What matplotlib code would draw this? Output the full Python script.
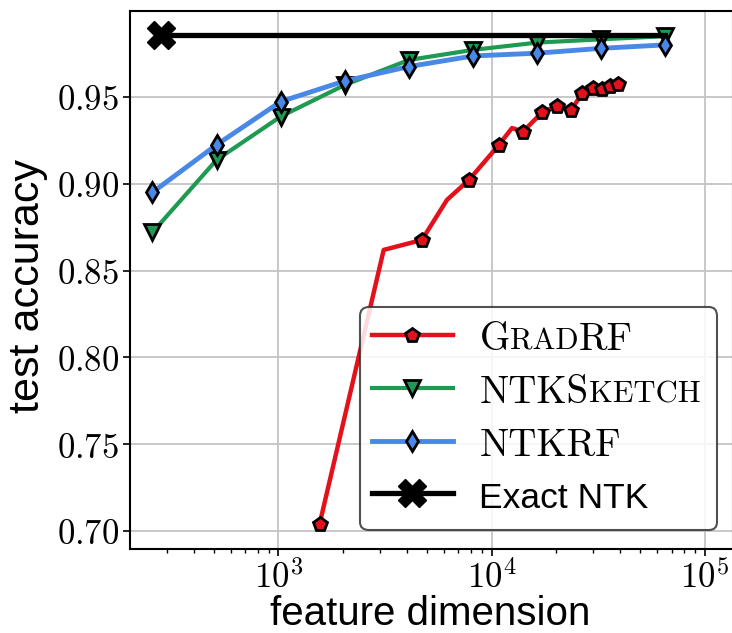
import matplotlib
matplotlib.use("Agg")
import numpy as np
import matplotlib.pyplot as plt
from matplotlib.ticker import FuncFormatter, FixedLocator, LogLocator, NullFormatter
from matplotlib.offsetbox import AnchoredOffsetbox, DrawingArea, TextArea, HPacker, VPacker
from matplotlib.lines import Line2D

plt.rcParams['mathtext.fontset'] = 'cm'

# ---------------- data ----------------
ntk_dims = [256, 512, 1024, 2048, 4096, 8192, 16384, 32768, 65536]
ntkrf_acc = [0.895, 0.9224, 0.9473, 0.9592, 0.9675, 0.9736, 0.9752, 0.978, 0.980]
ntksketch_acc = [0.872, 0.9137, 0.9387, 0.9569, 0.9713, 0.9771, 0.9813, 0.9832, 0.985]

gradrf_dims = [1560, 3119, 4710, 6180, 7840, 10840, 12480, 14060, 17290,
               20340, 23660, 26660, 30050, 33130, 36110, 39400]
gradrf_acc = [0.704, 0.8619, 0.8676, 0.8907, 0.9022, 0.9224, 0.9321, 0.9300,
              0.9412, 0.9450, 0.9425, 0.9521, 0.9550, 0.9544, 0.9563, 0.9575]
gradrf_marked = [0, 2, 4, 5, 7, 8, 9, 10, 11, 12, 13, 14, 15]

exact_dims = [280, 65536]
exact_acc = [0.9857, 0.9857]

y_ticks = [0.70, 0.75, 0.80, 0.85, 0.90, 0.95]

RED = '#e3111b'
GREEN = '#1f9a52'
BLUE = '#4a88e8'

fig = plt.figure(figsize=(7.32, 6.33), dpi=100)
ax = fig.add_axes([130 / 732, 84 / 633, 603 / 732, 538 / 633])

ax.plot(gradrf_dims, gradrf_acc, color=RED, lw=3.2, marker='p', ms=10,
        mfc=RED, mec='black', mew=2, markevery=gradrf_marked, zorder=3)
ax.plot(ntk_dims, ntksketch_acc, color=GREEN, lw=3, marker='v', ms=11,
        mfc=GREEN, mec='black', mew=2, zorder=4)
ax.plot(ntk_dims, ntkrf_acc, color=BLUE, lw=3.5, marker='d', ms=10.5,
        mfc=BLUE, mec='black', mew=2, zorder=5)
ax.plot(exact_dims, exact_acc, color='black', lw=3.8, marker='X', ms=20,
        mfc='black', mec='black', mew=1, markevery=[0], zorder=6)

ax.set_xscale('log')
ax.set_xlim(201, 136000)
ax.set_ylim(0.6896, 0.9995)
ax.yaxis.set_major_locator(FixedLocator(y_ticks))
ax.yaxis.set_major_formatter(FuncFormatter(lambda v, p: f'${v:.2f}$'))
ax.xaxis.set_major_locator(LogLocator(base=10, numticks=10))
ax.xaxis.set_major_formatter(FuncFormatter(lambda v, p: f'$10^{{{int(round(np.log10(v)))}}}$'))
ax.xaxis.set_minor_locator(LogLocator(base=10, subs=range(2, 10), numticks=20))
ax.xaxis.set_minor_formatter(NullFormatter())

ax.grid(True, which='major', color='#c4c4c4', lw=1.3)
ax.set_axisbelow(True)
for s in ax.spines.values():
    s.set_linewidth(1.5)
ax.tick_params(axis='both', which='major', labelsize=25, length=5, width=1.2, pad=3)
ax.tick_params(axis='x', which='minor', length=3, width=1.0)

ax.set_xlabel('feature dimension', family='Liberation Sans', fontsize=29, va='baseline')
ax.xaxis.set_label_coords(0.498, (633 - 625 - 84) / 538)
ax.set_ylabel('test accuracy', family='Liberation Sans', fontsize=31, labelpad=6)
ax.yaxis.label.set_y(0.488)

# ---------------- legend with small caps labels ----------------
BIG = 28
SMALL = 22
LINE_Y = 10.8     # handle line height above text baseline (pt)


def label_box(parts):
    kids = [TextArea(t, textprops=dict(family='cmr10', size=BIG if big else SMALL))
            for t, big in parts]
    if len(kids) == 1:
        return kids[0]
    return HPacker(children=kids, sep=0, pad=0, align='baseline')


def handle_box(color, lw, marker, ms, mew=2):
    w, h, d = 58, 38, 8.2
    da = DrawingArea(w, h, 0, d)
    da.add_artist(Line2D([0, w], [LINE_Y, LINE_Y], color=color, lw=lw))
    da.add_artist(Line2D([w / 2], [LINE_Y], marker=marker, ms=ms, mfc=color,
                         mec='black', mew=mew, ls=''))
    return da


rows = [
    (handle_box(RED, 3.2, 'p', 10), label_box([('G', True), ('RAD', False), ('RF', True)])),
    (handle_box(GREEN, 3, 'v', 11), label_box([('NTKS', True), ('KETCH', False)])),
    (handle_box(BLUE, 3.5, 'd', 10.5), label_box([('NTKRF', True)])),
    (handle_box('black', 3.8, 'X', 20, 1),
     TextArea('Exact NTK', textprops=dict(family='Liberation Sans', size=25.5))),
]
row_boxes = [HPacker(children=[h, t], sep=19.4, pad=0, align='baseline') for h, t in rows]
inner = VPacker(children=[DrawingArea(1, 1)] + row_boxes + [DrawingArea(1, 7.4)],
                sep=0, pad=0, align='left')
outer = HPacker(children=[DrawingArea(8.4, 1), inner, DrawingArea(12, 1)],
                sep=0, pad=0, align='center')

leg = AnchoredOffsetbox(loc='lower right', child=outer, pad=0, borderpad=0,
                        frameon=True, prop=dict(size=10),
                        bbox_to_anchor=(717 / 732, (633 - 530) / 633),
                        bbox_transform=fig.transFigure)
leg.patch.set_boxstyle('round,pad=0,rounding_size=0.6')
leg.patch.set_edgecolor('#333333')
leg.patch.set_linewidth(1.5)
leg.patch.set_facecolor('white')
leg.patch.set_alpha(0.85)
leg.set_zorder(10)
ax.add_artist(leg)

fig.savefig('out.png', dpi=100)
